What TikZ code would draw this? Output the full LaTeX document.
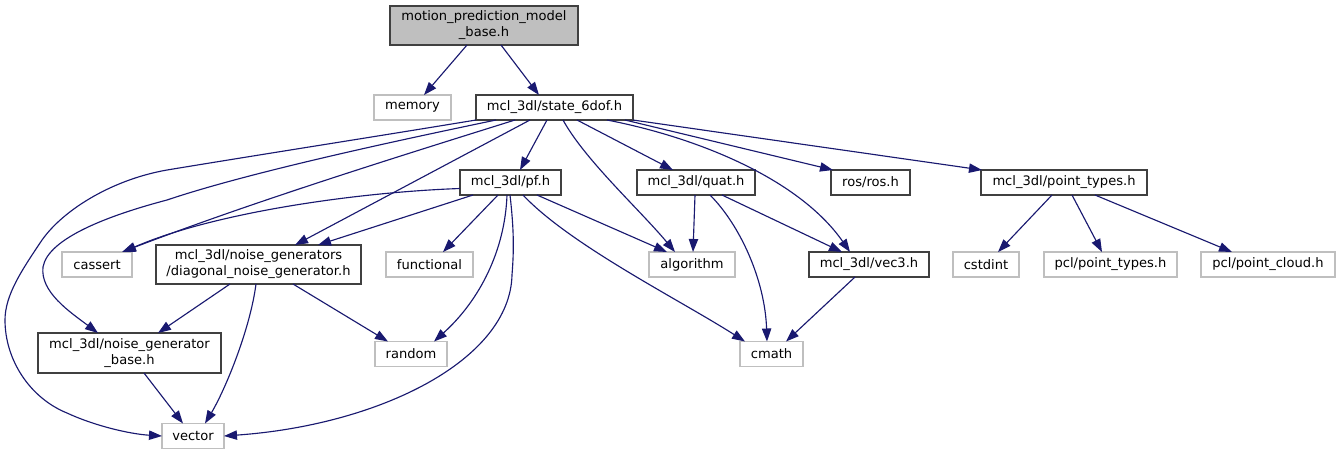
\documentclass[tikz,border=0pt]{standalone}
\usepackage{fontspec}
\setmainfont{DejaVu Sans}
\usetikzlibrary{arrows.meta,calc}
\definecolor{edgec}{HTML}{191970}
\definecolor{darkb}{HTML}{404040}
\definecolor{lightb}{HTML}{BFBFBF}
\begin{document}
\begin{tikzpicture}[x=0.75pt,y=-0.75pt,
  box/.style={font=\fontsize{9.8pt}{12pt}\selectfont, inner sep=0pt, outer sep=0pt, align=center, minimum height=18.75pt, fill=white, line width=1pt},
  inc/.style={box, draw=darkb},
  sys/.style={box, draw=lightb},
  dep/.style={draw=edgec, line width=0.85pt, -{Triangle[length=9.75pt,width=7pt]}},
]
\fill[white] (0,0) rectangle (1339,455);
\useasboundingbox (0,0) rectangle (1339,455);

% nodes
\node[inc, fill=lightb, minimum width=141pt, minimum height=29.25pt] (top) at (484,25.5) {motion\_prediction\_model\\\_base.h};
\node[sys, minimum width=57.75pt] (memory) at (412.5,107.5) {memory};
\node[inc, minimum width=117.75pt] (state) at (554.5,107.5) {mcl\_3dl/state\_6dof.h};
\node[inc, minimum width=75.75pt] (pf) at (510.5,182.5) {mcl\_3dl/pf.h};
\node[inc, minimum width=88.5pt] (quat) at (696,182.5) {mcl\_3dl/quat.h};
\node[inc, minimum width=59.25pt] (ros) at (870.5,182.5) {ros/ros.h};
\node[inc, minimum width=124.5pt] (ptypes) at (1064,182.5) {mcl\_3dl/point\_types.h};
\node[sys, minimum width=52.5pt] (cassert) at (97,264.5) {cassert};
\node[inc, minimum width=153.75pt, minimum height=29.25pt] (diag) at (258.5,264.5) {mcl\_3dl/noise\_generators\\/diagonal\_noise\_generator.h};
\node[sys, minimum width=65.25pt] (functional) at (429.5,264.5) {functional};
\node[sys, minimum width=64.5pt] (algorithm) at (692,264.5) {algorithm};
\node[inc, minimum width=90pt] (vec3) at (869,264.5) {mcl\_3dl/vec3.h};
\node[sys, minimum width=49.5pt] (cstdint) at (986,264.5) {cstdint};
\node[sys, minimum width=99.75pt] (pclpt) at (1110.5,264.5) {pcl/point\_types.h};
\node[sys, minimum width=100.5pt] (pclpc) at (1268,264.5) {pcl/point\_cloud.h};
\node[inc, minimum width=137.25pt, minimum height=30pt] (ngb) at (129.5,353) {mcl\_3dl/noise\_generator\\\_base.h};
\node[sys, minimum width=54pt] (random) at (411,354) {random};
\node[sys, minimum width=47.25pt] (cmath) at (771.5,354) {cmath};
\node[sys, minimum width=46.5pt] (vector) at (193,436) {vector};

% edges
\draw[dep] ($(top.south)+(-17,0)$) -- ($(memory.north)+(11.5,0)$);
\draw[dep] ($(top.south)+(17,0)$) -- ($(state.north)+(-15.5,0)$);

\draw[dep] (state.south west) .. controls (373,137) and (270,153) .. (167,170)
  .. controls (110,180) and (60,212) .. (40,243)
  .. controls (22,270) and (5,295) .. (5,320)
  .. controls (5,360) and (30,398) .. (67,413)
  .. controls (95,426) and (130,434) .. (vector.west);
\draw[dep] ($(state.south)+(-58.5,0)$) .. controls (400,140) and (250,172) .. (167,200)
  .. controls (110,215) and (48,238) .. (43,267)
  .. controls (40,292) and (70,312) .. ($(ngb.north)+(-31.5,0)$);
\draw[dep] ($(state.south)+(-39.5,0)$) .. controls (384,161) and (250,203) .. ($(cassert.north)+(25,0)$);
\draw[dep] ($(state.south)+(-24.5,0)$) -- ($(diag.north)+(36.5,0)$);
\draw[dep] ($(state.south)+(-7.5,0)$) -- ($(pf.north)+(9.5,0)$);
\draw[dep] ($(state.south)+(8.5,0)$) .. controls (585,160) and (640,210) .. ($(algorithm.north)+(-17,0)$);
\draw[dep] ($(state.south)+(22.5,0)$) -- ($(quat.north)+(-23,0)$);
\draw[dep] ($(state.south)+(52.5,0)$) .. controls (700,138) and (800,180) .. ($(vec3.north)+(-19,0)$);
\draw[dep] ($(state.south)+(70.5,0)$) -- ($(ros.north west)+(2,0)$);
\draw[dep] (state.south east) -- ($(ptypes.north west)+(1,0)$);

\draw[dep] ($(pf.west)+(0,6)$) .. controls (360,192) and (215,212) .. ($(cassert.north)+(26,0)$);
\draw[dep] ($(pf.south)+(-37.5,0)$) -- ($(diag.north)+(59.5,0)$);
\draw[dep] ($(pf.south)+(-12.5,0)$) -- ($(functional.north)+(13.5,0)$);
\draw[dep] ($(pf.south)+(-3.5,0)$) .. controls (505,250) and (480,300) .. ($(random.north)+(23,0)$);
\draw[dep] ($(pf.south)+(-0.5,0)$) .. controls (514,230) and (514,250) .. (512,275)
  .. controls (510,360) and (380,425) .. (vector.east);
\draw[dep] ($(pf.south)+(26.5,0)$) -- ($(algorithm.north)+(-25,0)$);
\draw[dep] ($(pf.south)+(12.5,0)$) .. controls (570,245) and (680,300) .. ($(cmath.north)+(-26.5,0)$);

\draw[dep] ($(quat.south)+(-1,0)$) -- ($(algorithm.north)+(1,0)$);
\draw[dep] ($(quat.south)+(14,0)$) .. controls (740,225) and (765,280) .. ($(cmath.north)+(-4.5,0)$);
\draw[dep] ($(quat.south)+(26,0)$) -- ($(vec3.north)+(-27,0)$);
\draw[dep] ($(vec3.south)+(-14,0)$) -- ($(cmath.north)+(14.5,0)$);

\draw[dep] ($(ptypes.south)+(-12,0)$) -- ($(cstdint.north)+(12,0)$);
\draw[dep] ($(ptypes.south)+(8,0)$) -- ($(pclpt.north)+(-8.5,0)$);
\draw[dep] ($(ptypes.south)+(31,0)$) -- ($(pclpc.north)+(-36,0)$);

\draw[dep] ($(diag.south)+(-28.5,0)$) -- ($(ngb.north)+(28.5,0)$);
\draw[dep] ($(diag.south)+(-2.5,0)$) .. controls (250,330) and (225,390) .. ($(vector.north)+(12,0)$);
\draw[dep] ($(diag.south)+(34.5,0)$) -- ($(random.north)+(-23,0)$);
\draw[dep] ($(ngb.south)+(14.5,0)$) -- ($(vector.north)+(-10,0)$);
\end{tikzpicture}
\end{document}
